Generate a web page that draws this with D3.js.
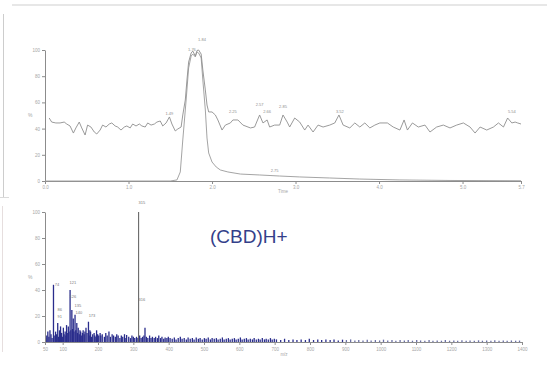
<!DOCTYPE html>
<html>
<head>
<meta charset="utf-8">
<script src="https://cdn.jsdelivr.net/npm/d3@7"></script>
<style>
  body { margin: 0; background: #fff; }
  svg { display: block; }
</style>
</head>
<body>
<script>
// chromatogram (top) - noisy TIC trace
const ticTime = [
  0.05, 0.08, 0.13, 0.18, 0.23, 0.26, 0.30, 0.34, 0.37, 0.41,
  0.44, 0.48, 0.51, 0.55, 0.59, 0.62, 0.66, 0.69, 0.73, 0.77,
  0.80, 0.84, 0.87, 0.91, 0.95, 0.98, 1.02, 1.05, 1.09, 1.13,
  1.16, 1.20, 1.23, 1.27, 1.31, 1.34, 1.38, 1.41, 1.45, 1.49,
  1.52, 1.56, 1.59, 1.63, 1.65, 1.68, 1.70, 1.72, 1.75, 1.77,
  1.80, 1.82, 1.84, 1.87, 1.89, 1.92, 1.94, 1.96, 2.00, 2.04,
  2.07, 2.12, 2.16, 2.22, 2.25, 2.31, 2.37, 2.46, 2.51, 2.57,
  2.61, 2.66, 2.69, 2.75, 2.81, 2.85, 2.90, 2.93, 2.99, 3.05,
  3.11, 3.15, 3.21, 3.27, 3.33, 3.41, 3.47, 3.52, 3.57, 3.65,
  3.71, 3.77, 3.83, 3.89, 3.95, 4.01, 4.10, 4.17, 4.25, 4.30,
  4.34, 4.40, 4.47, 4.55, 4.61, 4.69, 4.77, 4.85, 4.93, 5.01,
  5.09, 5.15, 5.21, 5.29, 5.37, 5.43, 5.49, 5.54, 5.59, 5.63,
  5.66, 5.70
];
const ticValue = [
  48.1, 45.0, 44.3, 44.3, 45.0, 43.5, 42.0, 36.6, 40.5, 45.0,
  40.5, 35.1, 42.7, 41.2, 37.4, 35.9, 38.9, 42.7, 41.2, 43.5,
  44.3, 42.0, 41.2, 38.9, 41.2, 42.0, 40.5, 43.5, 42.0, 43.5,
  42.0, 41.2, 44.3, 42.7, 43.5, 45.0, 45.8, 42.0, 44.3, 48.9,
  43.5, 38.2, 39.7, 41.2, 50.4, 61.8, 77.1, 90.8, 97.7, 99.2,
  95.4, 99.6, 100, 96.9, 84.7, 69.5, 58.0, 52.7, 52.7, 50.4,
  46.6, 38.9, 42.7, 44.3, 46.6, 46.6, 42.7, 40.5, 41.2, 50.4,
  44.3, 46.6, 41.2, 42.7, 42.7, 50.4, 45.0, 41.2, 48.1, 45.0,
  38.9, 42.7, 37.4, 42.7, 41.2, 42.7, 44.3, 50.4, 42.7, 40.5,
  44.3, 41.2, 44.3, 40.5, 42.7, 44.3, 44.3, 41.2, 38.9, 46.6,
  38.9, 44.3, 41.2, 42.7, 37.4, 41.2, 42.7, 40.5, 42.7, 44.3,
  41.2, 36.6, 41.2, 38.9, 41.2, 44.3, 41.2, 48.1, 44.3, 45.0,
  44.3, 43.5
];

// extracted ion trace (top)
const eicTime = [0, 1.50, 1.58, 1.62, 1.65, 1.69, 1.72, 1.75, 1.77, 1.80, 1.82, 1.84, 1.87,
  1.89, 1.92, 1.94, 1.96, 2.00, 2.05, 2.10, 2.19, 2.34, 2.57, 2.81, 3.05, 3.41, 3.77, 4.25, 4.85, 5.70];
const eicValue = [0, 0, 0.8, 6.9, 31.3, 61.8, 86.3, 95.4, 96.9, 94.7, 98.5, 97.7, 93.9,
  77.1, 54.2, 32.8, 21.4, 14.5, 10.7, 8.4, 6.9, 5.3, 4.6, 3.8, 3.1, 2.3, 1.5, 0.8, 0.4, 0.2];

// label anchors (time, % of the label's own position) and texts
const topLabelTime = [1.49, 1.76, 1.88, 2.25, 2.57, 2.66, 2.85, 3.53, 5.59, 2.75];
const topLabelValue = [50.5, 99.5, 107, 52, 57, 52, 55.5, 52, 52, 6.5];
const topLabelText = ['1.49', '1.76', '1.84', '2.25', '2.57', '2.66', '2.85', '3.52', '5.54', '2.75'];

const timeTicks = [0, 1, 2, 3, 4, 5, 5.7];
const timeTickText = ['0.0', '1.0', '2.0', '3.0', '4.0', '5.0', '5.7'];
const pctTicks = [0, 20, 40, 60, 80, 100];

// mass spectrum (bottom)
const specMz = [
  52, 55, 58, 61, 64, 67, 70, 74, 76, 80, 83, 86, 88, 91, 92, 94, 97, 99,
  102, 104, 107, 109, 111, 113, 116, 118, 121, 123, 126, 128, 130, 132, 135, 137, 140, 142,
  144, 147, 149, 151, 154, 156, 158, 161, 163, 166, 169, 173, 175, 177, 179, 182, 185, 189,
  191, 194, 196, 199, 202, 206, 208,
  212, 218, 222, 226, 231, 235, 240, 244, 249, 253, 257, 262, 266, 270, 275, 279, 281, 287,
  292, 296, 300, 304, 309, 313, 315, 318, 322, 326, 330, 333, 337, 341, 346, 350, 354, 359,
  363, 368, 372, 377, 381, 386, 390, 395, 399,
  404, 410, 416, 421, 427, 433, 438, 444, 450, 455, 461, 467, 472, 478, 484, 489, 495, 501,
  506, 512, 518, 523, 529, 535, 540, 546, 552, 557, 563, 569, 574, 580, 586, 591, 597, 603,
  608, 614, 620, 625, 631, 637, 642, 648, 654, 659, 665, 671, 676, 682, 688, 693, 699,
  705, 717, 728, 740, 752, 763, 775, 787, 798, 810, 822, 833, 845, 857, 868, 880, 892, 903,
  915, 927, 938, 950, 962, 973, 985, 997, 1008, 1020, 1032, 1043, 1055, 1067, 1078, 1090,
  1102, 1113, 1125, 1137, 1148, 1160, 1172, 1183, 1195, 1207, 1218, 1230, 1242, 1253, 1265,
  1277, 1288, 1300, 1312, 1323, 1335, 1347, 1358, 1370, 1382, 1393
];
const specInt = [
  3, 5, 8, 4, 9, 6, 3, 44, 5, 8, 6, 14.6, 4, 9, 5, 12, 7, 4,
  11, 6, 8, 5, 13, 7, 12, 8, 40, 9, 24.6, 10, 18, 8, 21, 9, 14.6, 7,
  11, 6, 9, 8, 5, 7, 9, 6, 8, 11, 7, 15.6, 5, 9, 8, 4, 6, 7,
  5, 4, 9, 6, 5, 7, 5,
  6, 4, 7, 5, 8, 4, 6, 5, 4, 6, 5, 3, 5, 4, 6, 3, 5.4, 4,
  3, 5, 4, 3, 4, 3, 100, 5, 3, 4, 5, 11, 4, 3, 5, 3, 4, 3,
  4, 3, 5, 3, 4, 2.5, 3.5, 3, 4,
  3, 2.5, 3.5, 2, 3, 4, 2.5, 3, 2, 3.5, 2.5, 3, 2, 3.5, 2.5, 3, 2, 3,
  2.5, 3.5, 2, 3, 2.5, 3, 2, 2.5, 3.5, 2, 2.5, 3, 2, 2.5, 3, 2, 2.5, 3.5,
  2, 2.5, 3, 2, 2.5, 2, 3, 2, 2.5, 2, 3, 2, 2.5, 2, 3, 2, 2.5,
  2, 1.5, 2.5, 1.5, 2, 1.5, 2, 1.5, 2.5, 1.5, 2, 1.5, 2, 1.5, 2, 1.2, 1.8, 1.5,
  2, 1.2, 1.5, 1.2, 1.8, 1.2, 1.5, 1.2, 1.8, 1.2, 1.5, 1, 1.5, 1.2, 1.5, 1,
  1.5, 1.2, 1, 1.5, 1, 1.2, 1, 1.5, 1, 1.2, 1, 1.4, 1, 1.2, 1,
  1.3, 1, 1.2, 1, 1.3, 1, 1.2, 1, 1.2, 1, 1.1
];

const specLabelMz = [84, 92, 92, 129, 129, 143, 146, 183, 324, 324];
const specLabelInt = [44, 24.6, 19.2, 45.4, 34.6, 27.7, 22.3, 20, 107, 32.3];
const specLabelText = ['74', '86', '91', '121', '126', '135', '140', '173', '315', '316'];

const mzTicks = [50, 100, 200, 300, 400, 500, 600, 700, 800, 900, 1000, 1100, 1200, 1300, 1400];

const svg = d3.select('body')
  .append('svg')
  .attr('width', 547)
  .attr('height', 387);

// scan edges round the figure
svg.append('line').attr('x1', 12).attr('y1', 5).attr('x2', 547).attr('y2', 5)
  .attr('stroke', '#cfcfcf').attr('stroke-width', 1);
svg.append('line').attr('x1', 3.5).attr('y1', 14).attr('x2', 3.5).attr('y2', 197)
  .attr('stroke', '#cdcdcd').attr('stroke-width', 1);
svg.append('line').attr('x1', 0).attr('y1', 197.5).attr('x2', 9).attr('y2', 197.5)
  .attr('stroke', '#dadada').attr('stroke-width', 1);
svg.append('line').attr('x1', 2.5).attr('y1', 206).attr('x2', 2.5).attr('y2', 352)
  .attr('stroke', '#e6dede').attr('stroke-width', 1);

const axisColor = '#8c8c8c';
const labelColor = '#a6a6a6';
const font = 'Liberation Sans, Arial, sans-serif';

function styleAxis(g) {
  g.attr('font-size', 4.5).attr('font-family', font);
  g.select('.domain').attr('stroke', axisColor);
  g.selectAll('.tick line').attr('stroke', axisColor);
  g.selectAll('.tick text').attr('fill', labelColor);
}

// ---- top chart ----
const xTop = d3.scaleLinear().domain([0, 5.7]).range([45, 521]);
const yTop = d3.scaleLinear().domain([0, 100]).range([181, 50]);

svg.append('g')
  .attr('transform', `translate(0, ${yTop(0)})`)
  .call(d3.axisBottom(xTop).tickValues(timeTicks).tickSize(3).tickSizeOuter(0).tickPadding(2)
    .tickFormat((d, i) => timeTickText[i]))
  .call(styleAxis);

svg.append('g')
  .attr('transform', `translate(${xTop(0)}, 0)`)
  .call(d3.axisLeft(yTop).tickValues(pctTicks).tickSize(3).tickSizeOuter(0).tickPadding(2))
  .call(styleAxis);

svg.append('text').attr('x', 28).attr('y', 117).attr('font-size', 5)
  .attr('fill', labelColor).attr('font-family', font).text('%');
svg.append('text').attr('x', 283).attr('y', 193).attr('font-size', 4.5).attr('text-anchor', 'middle')
  .attr('fill', labelColor).attr('font-family', font).text('Time');

const lineTop = d3.line()
  .x((d) => xTop(d[0]))
  .y((d) => yTop(d[1]));

svg.append('path')
  .datum(eicTime.map((t, i) => [t, eicValue[i]]))
  .attr('d', lineTop)
  .attr('fill', 'none')
  .attr('stroke', '#9a9a9a')
  .attr('stroke-width', 0.9);

svg.append('path')
  .datum(ticTime.map((t, i) => [t, ticValue[i]]))
  .attr('d', lineTop)
  .attr('fill', 'none')
  .attr('stroke', '#8e8e8e')
  .attr('stroke-width', 0.9);

svg.append('g')
  .selectAll('text')
  .data(topLabelText)
  .enter()
  .append('text')
  .attr('x', (d, i) => xTop(topLabelTime[i]))
  .attr('y', (d, i) => yTop(topLabelValue[i]))
  .attr('text-anchor', 'middle')
  .attr('font-size', 4)
  .attr('font-family', font)
  .attr('fill', '#8e8e8e')
  .text((d) => d);

// ---- bottom chart ----
const xBot = d3.scaleLinear().domain([50, 1400]).range([45, 522]);
const yBot = d3.scaleLinear().domain([0, 100]).range([342, 212]);

svg.append('g')
  .selectAll('line')
  .data(specMz)
  .enter()
  .append('line')
  .attr('x1', (d) => xBot(d))
  .attr('x2', (d) => xBot(d))
  .attr('y1', yBot(0))
  .attr('y2', (d, i) => yBot(specInt[i]))
  .attr('stroke', (d, i) => specInt[i] >= 99 ? '#5a5a5a' : (d > 900 ? '#6a6fa6' : '#2a2d8c'))
  .attr('stroke-width', (d, i) => specInt[i] >= 99 ? 1 : 1.3);

svg.append('g')
  .attr('transform', `translate(0, ${yBot(0)})`)
  .call(d3.axisBottom(xBot).tickValues(mzTicks).tickSize(3).tickSizeOuter(0).tickPadding(3)
    .tickFormat(d3.format('d')))
  .call(styleAxis);

svg.append('g')
  .attr('transform', `translate(${xBot(50)}, 0)`)
  .call(d3.axisLeft(yBot).tickValues(pctTicks).tickSize(3).tickSizeOuter(0).tickPadding(2))
  .call(styleAxis);

svg.append('text').attr('x', 28).attr('y', 279).attr('font-size', 5)
  .attr('fill', labelColor).attr('font-family', font).text('%');
svg.append('text').attr('x', 284).attr('y', 356).attr('font-size', 4.5).attr('text-anchor', 'middle')
  .attr('fill', labelColor).attr('font-family', font).text('m/z');

svg.append('g')
  .selectAll('text')
  .data(specLabelText)
  .enter()
  .append('text')
  .attr('x', (d, i) => xBot(specLabelMz[i]))
  .attr('y', (d, i) => yBot(specLabelInt[i]))
  .attr('dy', '0.35em')
  .attr('text-anchor', 'middle')
  .attr('font-size', 4)
  .attr('font-family', font)
  .attr('fill', '#7a7a7a')
  .text((d) => d);

svg.append('text')
  .attr('x', 210)
  .attr('y', 243)
  .attr('font-size', 19)
  .attr('font-family', font)
  .attr('fill', '#343f8a')
  .text('(CBD)H+');
</script>
</body>
</html>
